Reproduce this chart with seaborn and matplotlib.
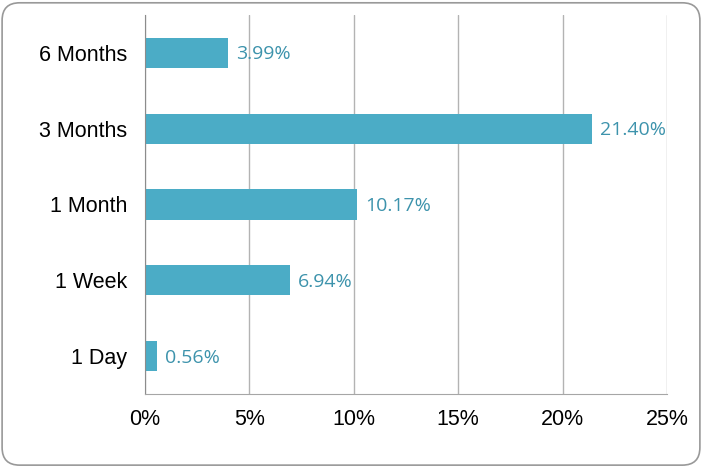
import matplotlib
matplotlib.use("Agg")
import matplotlib.pyplot as plt
from matplotlib.patches import FancyBboxPatch
import seaborn as sns
import pandas as pd

periods = ["6 Months", "3 Months", "1 Month", "1 Week", "1 Day"]
shares = [3.99, 21.40, 10.17, 6.94, 0.56]
value_labels = ["3.99%", "21.40%", "10.17%", "6.94%", "0.56%"]
x_ticks = [0, 5, 10, 15, 20, 25]

df = pd.DataFrame({"Period": periods, "Share": shares})

sns.set_style("white")
plt.rcParams["font.family"] = ["Liberation Sans", "DejaVu Sans"]

fig = plt.figure(figsize=(7.02, 4.67), dpi=100)
ax = fig.add_axes([0.2066, 0.1563, 0.7434, 0.8117])

sns.barplot(data=df, x="Share", y="Period", orient="h", color="#4BACC6",
            saturation=1, width=0.4, linewidth=0, ax=ax)

for i, (v, lab) in enumerate(zip(shares, value_labels)):
    ax.text(v + 0.38, i + 0.02, lab, va="center", ha="left", fontsize=14,
            color="#3D93AC", family=["Open Sans", "DejaVu Sans"])

ax.set_xlim(0, 25)
ax.set_ylim(4.5, -0.5)
ax.set_xticks(x_ticks)
ax.set_xticklabels([f"{t}%" for t in x_ticks], fontsize=15.5, color="black")
for t in ax.get_yticklabels():
    t.set_color("black")
ax.tick_params(axis="y", labelsize=15.5, length=0, pad=13)
ax.tick_params(axis="x", length=0, pad=11)
ax.set_xlabel("")
ax.set_ylabel("")
ax.xaxis.grid(True, color="#B3B3B3", linewidth=1)
ax.set_axisbelow(True)
for s in ["top", "right"]:
    ax.spines[s].set_visible(False)
ax.spines["left"].set_color("#8C8C8C")
ax.spines["bottom"].set_color("#A6A6A6")

border = FancyBboxPatch((0.003, 0.004), 0.994, 0.99, boxstyle="round,pad=0,rounding_size=0.025",
                        transform=fig.transFigure, facecolor="none", edgecolor="#999999",
                        linewidth=1.2, mutation_aspect=702 / 467)
fig.patches.append(border)

fig.savefig("out.png", dpi=100)
